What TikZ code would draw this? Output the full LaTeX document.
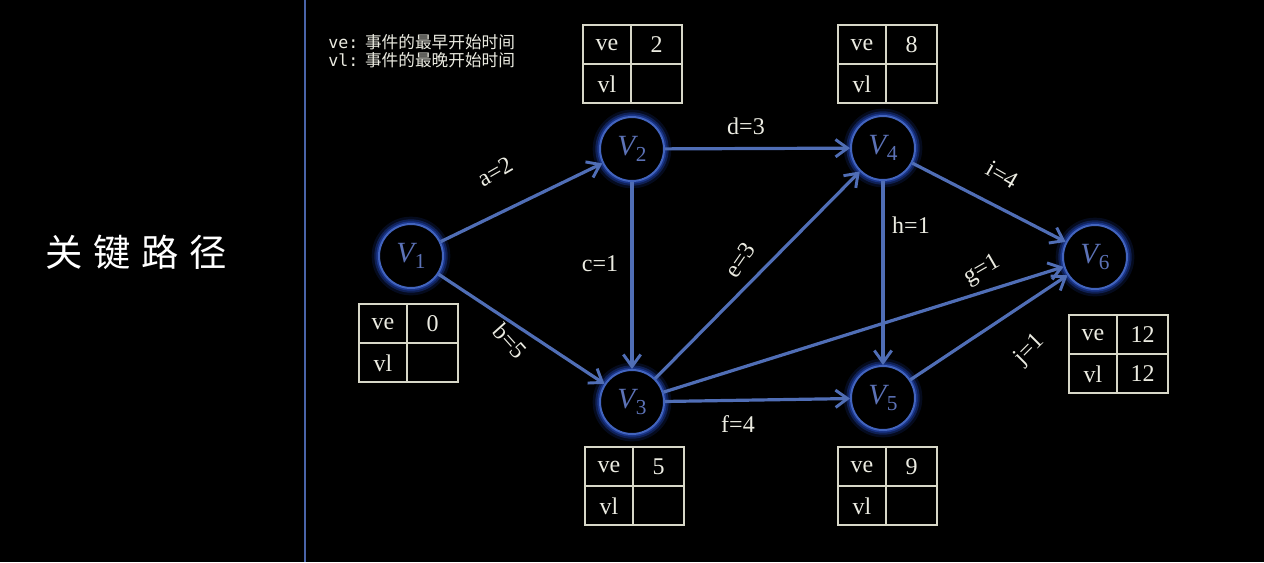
\documentclass[tikz,border=0pt]{standalone}
\usepackage{fontspec}
\setmainfont{Liberation Serif}
\newfontfamily\cjk{Noto Sans CJK SC}
\newfontfamily\legmono{DejaVu Sans Mono}
\usetikzlibrary{arrows.meta}
\definecolor{ecol}{RGB}{80,110,182}
\definecolor{vring}{RGB}{66,100,190}
\definecolor{glowc}{RGB}{28,58,150}
\definecolor{vtext}{RGB}{92,114,182}
\definecolor{tabc}{RGB}{215,215,200}
\definecolor{txtc}{RGB}{235,235,225}
\definecolor{vlinec}{RGB}{74,100,168}
\tikzset{
  vnode/.style={circle, minimum size=48pt, inner sep=0pt, draw=vring, line width=1.5pt, fill=black,
    preaction={draw=glowc, line width=11pt, draw opacity=0.2},
    preaction={draw=glowc, line width=7pt, draw opacity=0.45},
    preaction={draw=glowc, line width=4pt, draw opacity=0.8},
    text=vtext},
  edge/.style={draw=ecol, line width=2.4pt, -{Straight Barb[length=9pt,width=13pt,line width=2.2pt]}},
  elabel/.style={text=txtc, font=\fontsize{18}{20}\selectfont, inner sep=0pt},
  tabline/.style={draw=tabc, line width=1.1pt},
  tabtxt/.style={text=txtc, font=\fontsize{18}{20}\selectfont, inner sep=0pt},
}
\newcommand{\vlab}[1]{{\fontsize{22}{24}\selectfont\itshape V}\kern0.5pt\raisebox{-4.5pt}{\fontsize{16}{17}\selectfont #1}}
\newcommand{\vtab}[5]{%
  \draw[tabline] (#2,#3) rectangle ++(99,78);
  \draw[tabline] (#2+48,#3) -- ++(0,78);
  \draw[tabline] (#2,#3+39) -- ++(99,0);
  \node[tabtxt] (#1ve) at (#2+24,#3+20) {ve};
  \node[tabtxt] (#1vl) at (#2+24,#3+59) {vl};
  \node[tabtxt] (#1e) at (#2+73.5,#3+20) {#4};
  \node[tabtxt] (#1l) at (#2+73.5,#3+59) {#5};
}
\begin{document}
\begin{tikzpicture}[x=0.75pt,y=-0.75pt]
\fill[black] (0,0) rectangle (1264,562);
\useasboundingbox (0,0) rectangle (1264,562);
\draw[vlinec, line width=2.2pt] (305,0) -- (305,562);
\node[text=white, font=\cjk\fontsize{28}{32}\selectfont, inner sep=0pt] (title) at (136,252)
  {关\hspace{8pt}键\hspace{8pt}路\hspace{8pt}径};
\node[text=txtc, anchor=west, inner sep=0pt, font=\fontsize{12.5}{14}\selectfont] (leg1) at (328,42)
  {{\legmono ve:}\hspace{5pt}{\cjk 事件的最早开始时间}};
\node[text=txtc, anchor=west, inner sep=0pt, font=\fontsize{12.5}{14}\selectfont] (leg2) at (328,60)
  {{\legmono vl:}\hspace{5pt}{\cjk 事件的最晚开始时间}};

\node[vnode] (v1) at (411,256) {\vlab{1}};
\node[vnode] (v2) at (632,149) {\vlab{2}};
\node[vnode] (v3) at (632,402) {\vlab{3}};
\node[vnode] (v4) at (883,148) {\vlab{4}};
\node[vnode] (v5) at (883,398) {\vlab{5}};
\node[vnode] (v6) at (1095,257) {\vlab{6}};

\draw[edge] (v1) -- (v2);
\draw[edge] (v1) -- (v3);
\draw[edge] (v2) -- (v4);
\draw[edge] (v2) -- (v3);
\draw[edge] (v3) -- (v4);
\draw[edge] (v3) -- (v5);
\draw[edge] (v3) -- (v6);
\draw[edge] (v4) -- (v5);
\draw[edge] (v4) -- (v6);
\draw[edge] (v5) -- (v6);

\node[elabel, rotate=30] (la) at (495,172) {a=2};
\node[elabel, rotate=-48] (lb) at (510,341) {b=5};
\node[elabel] (lc) at (600,264) {c=1};
\node[elabel] (ld) at (746,126) {d=3};
\node[elabel, rotate=55] (le) at (740,260) {e=3};
\node[elabel] (lf) at (738,424) {f=4};
\node[elabel, rotate=30] (lg) at (982,270) {g=1};
\node[elabel] (lh) at (911,225) {h=1};
\node[elabel, rotate=-30] (li) at (1002,175) {i=4};
\node[elabel, rotate=45] (lj) at (1030,350) {j=1};

\vtab{t1}{359}{304}{0}{}
\vtab{t2}{583}{25}{2}{}
\vtab{t3}{585}{447}{5}{}
\vtab{t4}{838}{25}{8}{}
\vtab{t5}{838}{447}{9}{}
\vtab{t6}{1069}{315}{12}{12}
\end{tikzpicture}
\end{document}
